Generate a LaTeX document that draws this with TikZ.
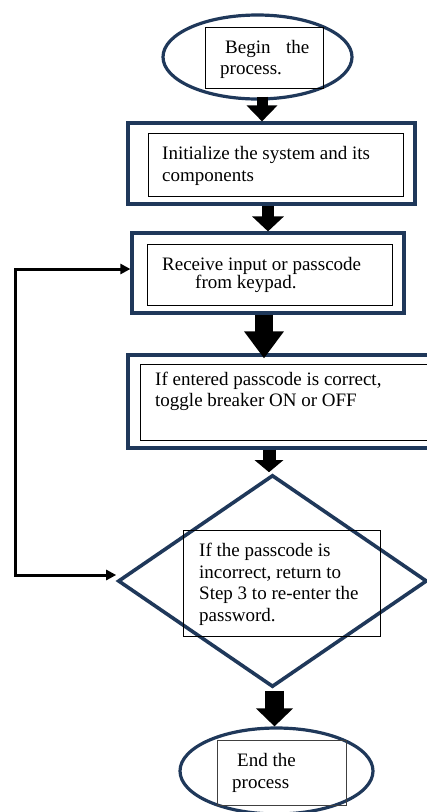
\documentclass[tikz,border=0pt]{standalone}
\usepackage{fontspec}
\setmainfont{Liberation Serif}
\usetikzlibrary{shapes.geometric,arrows.meta,calc}
\definecolor{navy}{RGB}{31,56,90}
\tikzset{
  outerbox/.style={draw=navy,line width=3.2pt,rectangle,inner sep=0pt},
  innerbox/.style={draw=black,line width=1pt,rectangle,inner sep=0pt},
  graybox/.style={draw=black!75,line width=1pt,rectangle,inner sep=0pt},
  oval/.style={draw=navy,line width=3.2pt,ellipse,inner sep=0pt},
  decision/.style={draw=navy,line width=3.6pt,diamond,inner sep=0pt},
  txt/.style={inner sep=0pt,anchor=base west,font=\fontsize{19}{22}\selectfont},
  barrow/.style n args={3}{line width=#1pt,-{Triangle[width=#2pt,length=#3pt]}},
  fb/.style={line width=3pt,line join=miter,{Triangle[width=10pt,length=10pt]}-{Triangle[width=10pt,length=10pt]}}
}
\begin{document}
\begin{tikzpicture}[x=1pt,y=-1pt]
\path[use as bounding box,fill=white] (0,0) rectangle (427,812);

% start
\node[oval,minimum width=189pt,minimum height=84pt] (e1) at (257.5,57) {};
\node[innerbox,minimum width=118pt,minimum height=61pt] (ie1) at (264,57.5) {};
\node[txt] (t1a) at (225,53) {Begin};
\node[txt] (t1b) at (286,53) {the};
\node[txt] (t1c) at (220,74) {process.};

% initialize
\node[outerbox,minimum width=287pt,minimum height=81pt] (b2) at (271.5,163.5) {};
\node[innerbox,minimum width=255pt,minimum height=63pt] (i2) at (275.5,164.5) {};
\node[txt] (t2a) at (162,159) {Initialize the system and its};
\node[txt] (t2b) at (162,181) {components};

% receive
\node[outerbox,minimum width=272pt,minimum height=80pt] (b3) at (268,273) {};
\node[innerbox,minimum width=245pt,minimum height=61pt] (i3) at (269.5,274.5) {};
\node[txt] (t3a) at (162,270) {Receive input or passcode};
\node[txt] (t3b) at (195,288) {from keypad.};

% toggle
\node[outerbox,minimum width=304pt,minimum height=93pt] (b4) at (280,401.5) {};
\node[innerbox,minimum width=288pt,minimum height=76pt] (i4) at (284,402) {};
\node[txt] (t4a) at (155,385) {If entered passcode is correct,};
\node[txt] (t4b) at (155,406) {toggle breaker ON or OFF};

% decision
\node[decision,minimum width=309pt,minimum height=212pt] (d) at (272.5,581) {};
\node[innerbox,minimum width=197pt,minimum height=106pt] (id) at (281.5,583) {};
\node[txt] (t5a) at (199,556) {If the passcode is};
\node[txt] (t5b) at (199,578) {incorrect, return to};
\node[txt] (t5c) at (199,599) {Step 3 to re-enter the};
\node[txt] (t5d) at (199,621) {password.};

% end
\node[oval,minimum width=193pt,minimum height=86pt] (e2) at (276.5,771) {};
\node[graybox,minimum width=129pt,minimum height=65pt] (ie2) at (281.5,772.5) {};
\node[txt] (t6a) at (237,766) {End the};
\node[txt] (t6b) at (232,788) {process};

% block arrows
\draw[barrow={11}{30}{16}] ([shift={(4.5pt,4pt)}]e1.south) -- ([xshift=4.5pt]e1.south |- b2.north);
\draw[barrow={12}{31}{15}] ([xshift=-3.5pt]b2.south) -- ([xshift=-3.5pt]b2.south |- b3.north);
\draw[barrow={18}{38}{27}] ([xshift=-4pt]b3.south) -- ([xshift=-4pt,yshift=-5pt]b3.south |- b4.north);
\draw[barrow={13}{28}{12}] ([xshift=-11pt]b4.south) -- ([xshift=-11pt,yshift=1pt]b4.south |- d.north);
\draw[barrow={19}{36}{18}] ([shift={(2pt,-2pt)}]d.south) -- ([xshift=2pt]d.south |- e2.north);

% feedback loop
\coordinate (fbx) at (15,400);
\coordinate (fa) at ([yshift=6pt]d.west);
\coordinate (fbb) at ([yshift=4pt]b3.west);
\draw[fb] (fa) -- (fa -| fbx) -- (fbb -| fbx) -- (fbb);
\end{tikzpicture}
\end{document}
